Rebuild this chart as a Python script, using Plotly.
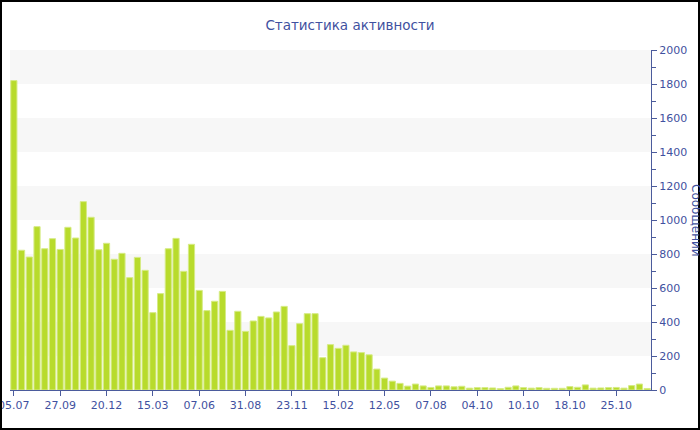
import plotly.graph_objects as go

title_text = "Статистика активности"
y_title = "Сообщений"

values = [1820, 822, 782, 961, 831, 890, 827, 957, 894, 1108,
          1016, 825, 863, 769, 804, 661, 780, 704, 455, 567,
          831, 892, 698, 857, 586, 467, 522, 580, 351, 463,
          345, 406, 433, 424, 459, 492, 261, 390, 449, 449,
          190, 267, 245, 263, 224, 220, 207, 123, 70, 52,
          39, 23, 35, 24, 15, 24, 24, 19, 22, 11,
          14, 14, 12, 8, 16, 24, 14, 11, 14, 10,
          10, 10, 20, 16, 30, 11, 12, 14, 15, 11,
          26, 35, 9]

tick_labels = ["05.07", "27.09", "20.12", "15.03", "07.06", "31.08", "23.11",
               "15.02", "12.05", "07.08", "04.10", "10.10", "18.10", "25.10"]
tick_step = 6

x_idx = list(range(len(values)))
tick_pos = [i * tick_step for i in range(len(tick_labels))]

axis_blue = "#4b5b9c"
text_blue = "#3f51a0"
font_family = "DejaVu Sans"

fig = go.Figure()
fig.add_trace(go.Bar(
    x=x_idx, y=values,
    marker=dict(color="#b8db2c", line=dict(color="#d6eb86", width=1)),
    hoverinfo="y",
))

W, H = 700, 430
ml, mr, mt, mb = 10, 49, 50, 40
pw, ph = W - ml - mr, H - mt - mb

shapes = []
for lo in range(200, 2000, 400):
    shapes.append(dict(type="rect", xref="paper", yref="y", x0=0, x1=1,
                       y0=lo, y1=lo + 200, fillcolor="#f7f7f7",
                       line=dict(width=0), layer="below"))
# outer frame
shapes.append(dict(type="rect", xref="paper", yref="paper",
                   x0=(1 - ml) / pw, x1=(W - 1 - ml) / pw,
                   y0=(ph + mt - (H - 1)) / ph, y1=(ph + mt - 1) / ph,
                   line=dict(color="black", width=2), fillcolor="rgba(0,0,0,0)"))

fig.update_layout(
    width=W, height=H,
    margin=dict(l=ml, r=mr, t=mt, b=mb, pad=0, autoexpand=False),
    paper_bgcolor="white", plot_bgcolor="white",
    showlegend=False,
    bargap=0.2,
    title=dict(text=title_text, x=0.5, xref="container", xanchor="center",
               y=1 - 25 / H, yanchor="middle",
               font=dict(family=font_family, size=13.5, color=text_blue)),
    font=dict(family=font_family, size=11, color=text_blue),
    shapes=shapes,
    xaxis=dict(range=[-0.5, len(values) - 0.5], tickmode="array",
               tickvals=tick_pos, ticktext=tick_labels,
               showgrid=False, zeroline=False, showline=True,
               linecolor=axis_blue, linewidth=1,
               ticks="outside", ticklen=5, tickcolor=axis_blue,
               ticklabeloverflow="allow", automargin=False,
               tickfont=dict(family=font_family, size=11, color=text_blue)),
    yaxis=dict(range=[0, 2000], side="right", dtick=200,
               showgrid=False, zeroline=False, showline=True,
               linecolor=axis_blue, linewidth=1,
               ticks="outside", ticklen=5, tickcolor=axis_blue,
               automargin=False,
               minor=dict(dtick=100, ticks="outside", ticklen=4, tickcolor=axis_blue),
               tickfont=dict(family=font_family, size=11, color=text_blue)),
    annotations=[dict(text=y_title, xref="paper", yref="paper",
                      x=(696 - ml) / pw, y=0.5, xanchor="center", yanchor="middle",
                      textangle=90, showarrow=False,
                      font=dict(family=font_family, size=12, color=text_blue))],
)

fig.write_html("out.html", config={"displayModeBar": False},
               post_script="document.body.style.margin='0px';")
